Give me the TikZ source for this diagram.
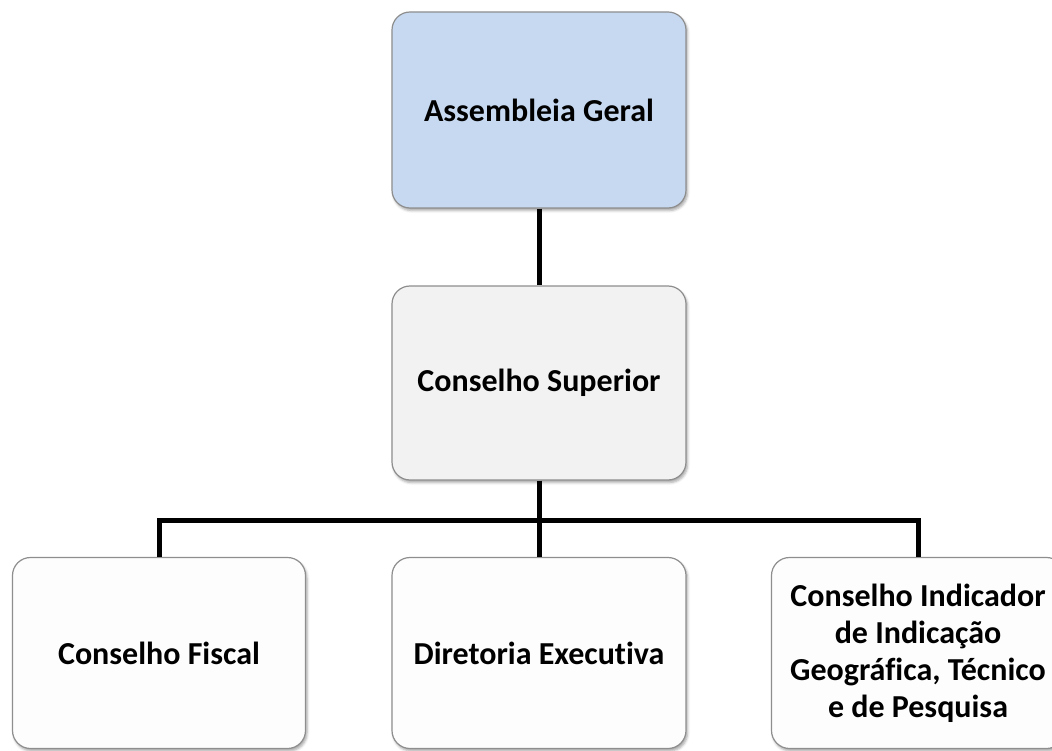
\documentclass[tikz,border=0pt]{standalone}
\usepackage{fontspec}
\setmainfont{Carlito}[Ligatures={NoCommon}]
\usetikzlibrary{shadows.blur}

\definecolor{topfill}{HTML}{C6D9F1}
\definecolor{midfill}{HTML}{F2F2F2}
\definecolor{lowfill}{HTML}{FDFDFD}
\definecolor{boxline}{HTML}{8E8E8E}

\tikzset{
  orgbox/.style={
    draw=boxline, line width=1.2pt, rounded corners=18pt,
    align=center, inner sep=0pt,
    font=\fontsize{32}{37}\selectfont\bfseries,
    blur shadow={shadow xshift=1.5pt, shadow yshift=-2.5pt,
                 shadow blur radius=2.5pt, shadow opacity=35}
  },
  link/.style={line width=5pt, black}
}

\begin{document}
\begin{tikzpicture}[x=1pt, y=-1pt]
  \useasboundingbox (0,0) rectangle (1052,751);
  \clip (0,0) rectangle (1052,751);

  % governing bodies
  \node[orgbox, fill=topfill, minimum width=294pt, minimum height=196pt]
    (ag) at (539,110) {Assembleia Geral};
  \node[orgbox, fill=midfill, minimum width=294pt, minimum height=194pt]
    (cs) at (539,383) {Conselho Superior};

  % subordinate bodies
  \node[orgbox, fill=lowfill, minimum width=293pt, minimum height=191pt]
    (cf) at (159,653) {Conselho Fiscal};
  \node[orgbox, fill=lowfill, minimum width=294pt, minimum height=191pt]
    (de) at (539,653) {Diretoria Executiva};
  \node[orgbox, fill=lowfill, minimum width=293pt, minimum height=191pt]
    (ci) at (918,653) {Conselho Indicador\\de Indicação\\Geográfica, Técnico\\e de Pesquisa};

  % connectors
  \coordinate (bus) at (539,520);
  \draw[link] (ag.south) -- (cs.north);
  \draw[link] (cs.south) -- (bus);
  \draw[link] (cf.north) |- (bus) -| (ci.north);
  \draw[link] (bus) -- (de.north);
\end{tikzpicture}
\end{document}
